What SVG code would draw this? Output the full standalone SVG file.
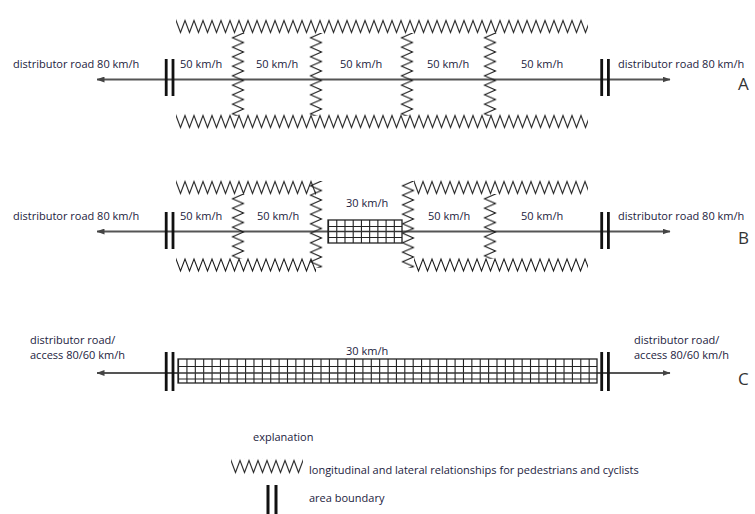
<svg xmlns="http://www.w3.org/2000/svg" width="755" height="514" viewBox="0 0 755 514">
  <style>
    .lbl { font-family: "Open Sans", "Liberation Sans", sans-serif; font-size: 11px; fill: #1c1c40; }
    .tag { font-family: "Open Sans", "Liberation Sans", sans-serif; font-size: 17px; fill: #333; }
    .road { stroke: #555; stroke-width: 1.8; fill: none; }
    .bar { fill: #111; }
    .zz { stroke: #1a1a1a; stroke-width: 1.1; fill: none; stroke-linejoin: miter; }
    .box { stroke: #222; stroke-width: 1.3; }
    .gridv-b { stroke: #222; stroke-width: 23; stroke-dasharray: 1.1 7.12; fill: none; }
    .gridv-c { stroke: #222; stroke-width: 24; stroke-dasharray: 1.1 7.28; fill: none; }
    .gridh { stroke: #222; stroke-width: 1; }
    .gridm { stroke: #333; stroke-width: 1.5; }
  </style>
  <defs>
    <!-- horizontal zigzag: 9 px period, 12 px amplitude -->
    <pattern id="zh" width="9" height="16" patternUnits="userSpaceOnUse">
      <polyline class="zz" points="-4.5,14 0,2 4.5,14 9,2 13.5,14"/>
    </pattern>
    <!-- vertical zigzag: 9.5 px period, 11 px amplitude -->
    <pattern id="zv" width="14" height="9.5" patternUnits="userSpaceOnUse">
      <polyline class="zz" points="1.5,-4.75 12.5,0 1.5,4.75 12.5,9.5 1.5,14.25"/>
    </pattern>
    <marker id="arr" viewBox="0 0 8 6" refX="7.5" refY="3" markerWidth="8" markerHeight="6" markerUnits="userSpaceOnUse" orient="auto-start-reverse">
      <path d="M0,0 L8,3 L0,6 Z" fill="#444"/>
    </marker>
  </defs>
  <rect width="755" height="514" fill="#fff"/>

  <!-- A: 50 km/h zones throughout -->
  <g id="row-a">
    <line class="road" x1="97" y1="79.5" x2="670" y2="79.5" marker-start="url(#arr)" marker-end="url(#arr)"/>
    <g transform="translate(176,18.5)"><rect width="412" height="16" fill="url(#zh)"/></g>
    <g transform="translate(176,113.5)"><rect width="412" height="16" fill="url(#zh)"/></g>
    <g transform="translate(231,33)"><rect width="14" height="83" fill="url(#zv)"/></g>
    <g transform="translate(309,33)"><rect width="14" height="83" fill="url(#zv)"/></g>
    <g transform="translate(400,33)"><rect width="14" height="83" fill="url(#zv)"/></g>
    <g transform="translate(483,33)"><rect width="14" height="83" fill="url(#zv)"/></g>
    <rect class="bar" x="164.8" y="59" width="2.8" height="37"/>
    <rect class="bar" x="171.6" y="59" width="2.8" height="37"/>
    <rect class="bar" x="600.3" y="59" width="2.8" height="37"/>
    <rect class="bar" x="607" y="59" width="2.8" height="37"/>
    <text class="lbl" x="13" y="68">distributor road 80 km/h</text>
    <text class="lbl" x="180" y="68">50 km/h</text>
    <text class="lbl" x="256" y="68">50 km/h</text>
    <text class="lbl" x="340" y="68">50 km/h</text>
    <text class="lbl" x="427" y="68">50 km/h</text>
    <text class="lbl" x="521" y="68">50 km/h</text>
    <text class="lbl" x="618" y="68">distributor road 80 km/h</text>
    <text class="tag" x="738" y="90">A</text>
  </g>

  <!-- B: 50 km/h zones with a 30 km/h core -->
  <g id="row-b">
    <line class="road" x1="97" y1="231.5" x2="670" y2="231.5" marker-start="url(#arr)" marker-end="url(#arr)"/>
    <g transform="translate(176,179.5)"><rect width="140" height="16" fill="url(#zh)"/></g>
    <g transform="translate(414,179.5)"><rect width="174" height="16" fill="url(#zh)"/></g>
    <g transform="translate(176,257)"><rect width="140" height="16" fill="url(#zh)"/></g>
    <g transform="translate(414,257)"><rect width="174" height="16" fill="url(#zh)"/></g>
    <g transform="translate(231,194)"><rect width="14" height="65" fill="url(#zv)"/></g>
    <g transform="translate(309,181)"><rect width="14" height="87" fill="url(#zv)"/></g>
    <g transform="translate(401,181)"><rect width="14" height="87" fill="url(#zv)"/></g>
    <g transform="translate(483,194)"><rect width="14" height="65" fill="url(#zv)"/></g>
    <g id="core-b">
      <rect x="328" y="220" width="74" height="23" fill="#fff"/>
      <line class="gridv-b" x1="328" y1="231.5" x2="402" y2="231.5"/>
      <line class="gridh" x1="328" y1="226.5" x2="402" y2="226.5"/>
      <line class="gridm" x1="328" y1="231.5" x2="402" y2="231.5"/>
      <line class="gridh" x1="328" y1="237.5" x2="402" y2="237.5"/>
      <rect class="box" x="328" y="220" width="74" height="23" fill="none"/>
    </g>
    <rect class="bar" x="164.8" y="212" width="2.8" height="37"/>
    <rect class="bar" x="171.6" y="212" width="2.8" height="37"/>
    <rect class="bar" x="600.3" y="212" width="2.8" height="37"/>
    <rect class="bar" x="607" y="212" width="2.8" height="37"/>
    <text class="lbl" x="13" y="220">distributor road 80 km/h</text>
    <text class="lbl" x="180" y="220">50 km/h</text>
    <text class="lbl" x="257" y="220">50 km/h</text>
    <text class="lbl" x="346" y="207">30 km/h</text>
    <text class="lbl" x="428" y="220">50 km/h</text>
    <text class="lbl" x="521" y="220">50 km/h</text>
    <text class="lbl" x="618" y="220">distributor road 80 km/h</text>
    <text class="tag" x="738" y="244">B</text>
  </g>

  <!-- C: one continuous 30 km/h area -->
  <g id="row-c">
    <line class="road" x1="97" y1="373" x2="670" y2="373" marker-start="url(#arr)" marker-end="url(#arr)"/>
    <g id="core-c">
      <rect x="178" y="359" width="419" height="24" fill="#fff"/>
      <line class="gridv-c" x1="178" y1="371" x2="597" y2="371"/>
      <line class="gridh" x1="178" y1="366.5" x2="597" y2="366.5"/>
      <line class="gridm" x1="178" y1="373" x2="597" y2="373"/>
      <line class="gridh" x1="178" y1="379" x2="597" y2="379"/>
      <rect class="box" x="178" y="359" width="419" height="24" fill="none"/>
    </g>
    <rect class="bar" x="164.8" y="352" width="2.8" height="39"/>
    <rect class="bar" x="171.6" y="352" width="2.8" height="39"/>
    <rect class="bar" x="600.3" y="352" width="2.8" height="39"/>
    <rect class="bar" x="607" y="352" width="2.8" height="39"/>
    <text class="lbl" x="30" y="344">distributor road/</text>
    <text class="lbl" x="30" y="359">access 80/60 km/h</text>
    <text class="lbl" x="346" y="355">30 km/h</text>
    <text class="lbl" x="634" y="344">distributor road/</text>
    <text class="lbl" x="634" y="359">access 80/60 km/h</text>
    <text class="tag" x="738" y="385">C</text>
  </g>

  <!-- legend -->
  <g id="legend">
    <text class="lbl" x="253" y="441">explanation</text>
    <g transform="translate(231,458.5)"><rect width="72" height="16" fill="url(#zh)"/></g>
    <text class="lbl" x="309" y="474">longitudinal and lateral relationships for pedestrians and cyclists</text>
    <rect class="bar" x="266.5" y="485" width="3" height="29"/>
    <rect class="bar" x="274.5" y="485" width="3" height="29"/>
    <text class="lbl" x="309" y="502">area boundary</text>
  </g>
</svg>
